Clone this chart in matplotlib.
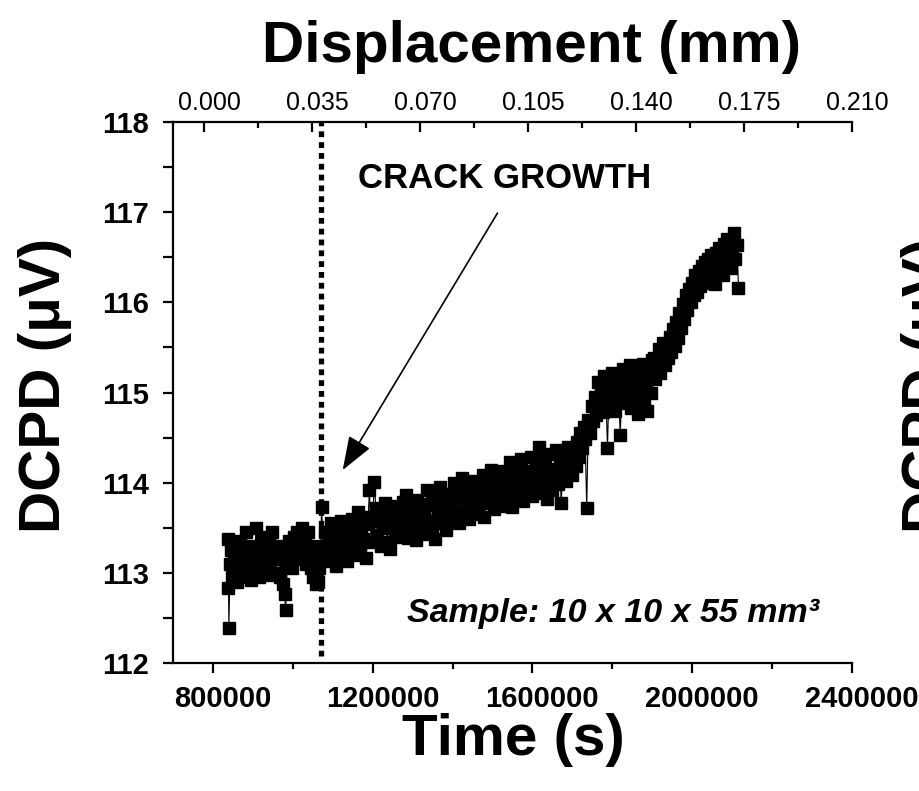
import numpy as np
import matplotlib
matplotlib.use('Agg')
import matplotlib.pyplot as plt
import matplotlib.transforms as mtransforms
from matplotlib.ticker import MultipleLocator

plt.rcParams['font.family'] = ['Liberation Sans', 'DejaVu Sans']

# DCPD record: time in ks, potential drop in microvolts
time_ks = [838, 839, 840, 843, 846, 849, 852, 855, 858, 861, 864, 867, 870, 873, 876, 880,
           884, 888, 892, 896, 900, 904, 908, 912, 916, 920, 924, 928, 932, 936, 940, 944,
           948, 952, 956, 960, 964, 968, 972, 976, 980, 982, 986, 990, 994, 998, 1002, 1006,
           1010, 1014, 1018, 1022, 1026, 1030, 1034, 1038, 1042, 1046, 1050, 1054, 1058, 1062,
           1066, 1070, 1072, 1076,
           1080, 1084, 1088, 1092, 1096, 1100, 1104, 1108, 1112, 1116, 1120, 1124, 1128, 1132,
           1136, 1140,
           1144, 1148, 1152, 1156, 1160, 1164, 1168, 1172, 1176, 1180, 1184, 1188, 1192, 1196,
           1200, 1204,
           1208, 1212, 1216, 1220, 1224, 1228, 1232, 1236, 1240, 1244, 1248, 1252, 1256, 1260,
           1264, 1268,
           1272, 1276, 1280, 1284, 1288, 1292, 1296, 1300, 1304, 1308, 1312, 1316, 1320, 1324,
           1328, 1332,
           1336, 1340, 1344, 1348, 1352, 1356, 1360, 1364, 1368, 1372, 1376, 1380, 1384, 1388,
           1392, 1396,
           1400, 1404, 1408, 1412, 1416, 1420, 1424, 1428, 1432, 1436, 1440, 1444, 1448, 1452,
           1456, 1460,
           1464, 1468, 1472, 1476, 1480, 1484, 1488, 1492, 1496, 1500, 1504, 1508, 1512, 1516,
           1520, 1524,
           1528, 1532, 1536, 1540, 1544, 1548, 1552, 1556, 1560, 1564, 1568, 1572, 1576, 1580,
           1584, 1588,
           1592, 1596, 1600, 1604, 1608, 1612, 1616, 1620, 1624, 1628, 1632, 1636, 1640, 1644,
           1648, 1652,
           1656, 1660, 1664, 1668, 1672, 1676, 1680, 1684, 1688, 1692, 1696, 1700,
           1704, 1708, 1712, 1716, 1720, 1724, 1728, 1732, 1736, 1740, 1744, 1748, 1752, 1756,
           1760, 1764, 1768, 1772, 1776, 1780, 1784, 1788, 1792, 1796, 1800, 1804, 1808, 1812,
           1816, 1820, 1824, 1828, 1832, 1836, 1840, 1844, 1848, 1852, 1856, 1860, 1864, 1868,
           1872, 1876, 1880, 1884, 1888, 1892, 1896, 1900,
           1904, 1908, 1912, 1916, 1920, 1924, 1928, 1932, 1936, 1940, 1944, 1948, 1952, 1956,
           1960, 1964, 1968, 1972, 1976, 1980, 1984, 1988, 1992, 1996, 2000, 2004, 2008, 2012,
           2016, 2020, 2024, 2028, 2032, 2036, 2040, 2044, 2048, 2052, 2056, 2060, 2064, 2068,
           2072, 2076, 2080, 2084, 2088, 2092, 2096, 2100, 2104, 2108, 2112, 2116]

dcpd = [113.38, 112.83, 112.39, 113.10, 113.25, 112.95, 113.15, 113.30, 113.05, 112.90, 113.20,
        113.35, 113.10, 112.95, 113.25, 113.15, 113.45, 113.00, 113.20, 112.92, 113.30, 113.10,
        113.50, 113.15, 112.95, 113.25, 113.40, 113.05, 113.20, 112.98, 113.35, 113.12, 113.45,
        113.22, 113.00, 113.30, 113.15, 112.95, 113.25, 112.88, 112.76, 112.59, 113.10, 113.35,
        113.20, 113.05, 113.40, 113.25, 113.45, 113.15, 113.30, 113.50, 113.20, 113.35, 113.10,
        113.45, 113.30, 113.05, 112.95, 113.15, 112.88, 112.90, 113.05, 113.20, 113.73, 113.30,
        113.45, 113.28, 113.13, 113.38, 113.55, 113.21, 113.33, 113.08, 113.43, 113.18, 113.58,
        113.36, 113.25, 113.49, 113.13, 113.40,
        113.32, 113.60, 113.42, 113.20, 113.50, 113.67, 113.27, 113.47, 113.37, 113.62, 113.17,
        113.54, 113.92, 113.34, 113.57, 114.01,
        113.72, 113.42, 113.57, 113.30, 113.67, 113.50, 113.77, 113.34, 113.60, 113.27, 113.64,
        113.52, 113.40, 113.74, 113.46, 113.62,
        113.46, 113.79, 113.56, 113.86, 113.39, 113.67, 113.73, 113.51, 113.63, 113.36, 113.81,
        113.58, 113.76, 113.43, 113.69, 113.53,
        113.92, 113.58, 113.75, 113.50, 113.85, 113.37, 113.80, 113.65, 113.95, 113.55, 113.72,
        113.88, 113.48, 113.78, 113.62, 113.82,
        113.75, 114.00, 113.62, 113.90, 113.55, 113.83, 114.05, 113.68, 113.95, 113.72, 113.60,
        113.92, 113.80, 114.02, 113.65, 113.86,
        113.67, 113.99, 113.81, 114.09, 113.62, 113.94, 114.04, 113.77, 114.14, 113.84, 113.71,
        114.01, 113.89, 114.11, 113.74, 113.97,
        114.13, 113.78, 114.03, 113.88, 114.23, 113.73, 114.08, 113.95, 114.18, 113.83, 114.00,
        114.26, 113.80, 114.06, 113.90, 114.13,
        113.95, 114.29, 113.85, 114.12, 114.22, 114.02, 114.40, 113.89, 114.17, 113.99, 114.25,
        113.82, 114.10, 114.32, 113.92, 114.15,
        114.06, 114.36, 113.98, 114.24, 113.78, 114.12, 114.30, 114.02, 114.40, 114.15, 114.28,
        114.08,
        114.32, 114.18, 114.45, 114.28, 114.55, 114.38, 114.62, 114.48, 113.72, 114.70, 114.55,
        114.85, 114.68, 114.95, 114.75, 115.12, 114.90, 115.06, 114.78, 115.18, 114.96, 114.39,
        115.10, 114.86, 115.22, 115.00, 114.80, 115.16, 114.93, 114.53, 115.08, 115.26, 114.88,
        115.13, 114.98, 115.30, 114.83, 115.08, 115.20, 114.93, 114.76, 115.16, 115.03, 115.32,
        114.88, 115.10, 114.80, 115.23, 115.00, 115.36,
        115.38, 115.15, 115.30, 115.48, 115.22, 115.40, 115.55, 115.30, 115.50, 115.38, 115.62,
        115.45, 115.70, 115.52, 115.78, 115.60, 115.88, 115.72, 115.98, 115.82, 116.08, 115.92,
        116.15, 116.00, 116.22, 116.08, 116.30, 116.12, 116.35, 116.18, 116.40, 116.25, 116.45,
        116.22, 116.48, 116.32, 116.52, 116.35, 116.20, 116.55, 116.38, 116.60, 116.42, 116.30,
        116.65, 116.48, 116.70, 116.52, 116.38, 116.62, 116.77, 116.48, 116.64, 116.16]

time_ticks = [800000, 1200000, 1600000, 2000000, 2400000]
time_labels = ['800000', '1200000', '1600000', '2000000', '2400000']
disp_ticks = [0.000, 0.035, 0.070, 0.105, 0.140, 0.175, 0.210]
disp_labels = ['0.000', '0.035', '0.070', '0.105', '0.140', '0.175', '0.210']
dcpd_ticks = [112, 113, 114, 115, 116, 117, 118]

crack_start = 1070000   # onset of crack growth (s)

t = np.array(time_ks) * 1000.0

fig = plt.figure(figsize=(9.2, 7.91), dpi=100)
ax = fig.add_axes([0.188, 0.1618, 0.738, 0.6839])

ax.plot(t, dcpd, color='black', lw=0.8, marker='s', ms=9, mec='black', mfc='black')
ax.plot([crack_start, crack_start], [112.08, 118], color='black', lw=3.8,
        linestyle=(0, (1.1, 0.95)), solid_capstyle='butt', dash_capstyle='butt')

ax.set_xlim(700000, 2400000)
ax.set_ylim(112, 118)
ax.set_xticks(time_ticks)
ax.set_xticklabels(time_labels)
ax.xaxis.set_minor_locator(MultipleLocator(200000))
ax.set_yticks(dcpd_ticks)
ax.yaxis.set_minor_locator(MultipleLocator(0.5))

for side in ['right', 'top']:
    ax.spines[side].set_visible(False)
for side in ['left', 'bottom']:
    ax.spines[side].set_linewidth(1.6)

ax.tick_params(axis='x', which='major', direction='out', length=7, width=1.6, pad=9,
               labelsize=21)
ax.tick_params(axis='x', which='minor', direction='out', length=4, width=1.6)
ax.tick_params(axis='y', which='both', direction='out', length=7, width=1.6, pad=10,
               labelsize=21)
for lab in ax.get_xticklabels() + ax.get_yticklabels():
    lab.set_fontweight('bold')

# bottom labels sit a little right of their ticks
shift = mtransforms.ScaledTranslation(0.10, 0, fig.dpi_scale_trans)
for lab in ax.get_xticklabels():
    lab.set_transform(lab.get_transform() + shift)

# displacement scale along the top
ax2 = ax.twiny()
ax2.set_xlim(-0.01005, 0.210)
ax2.set_xticks(disp_ticks)
ax2.set_xticklabels(disp_labels)
ax2.xaxis.set_minor_locator(MultipleLocator(0.0175))
for side in ['left', 'right', 'bottom']:
    ax2.spines[side].set_visible(False)
ax2.spines['top'].set_linewidth(1.6)
ax2.tick_params(axis='x', which='major', direction='in', length=7, width=1.6, pad=5,
                labelsize=18)
ax2.tick_params(axis='x', which='minor', direction='in', length=4, width=1.6)
shift_top = mtransforms.ScaledTranslation(0.05, 0, fig.dpi_scale_trans)
for lab in ax2.get_xticklabels():
    lab.set_transform(lab.get_transform() + shift_top)

ax.text(1530000, 117.37, 'CRACK GROWTH', fontsize=25, fontweight='bold',
        ha='center', va='center')
ax.annotate('', xy=(1125000, 114.14), xytext=(1512500, 116.99),
            arrowprops=dict(arrowstyle='-|>,head_length=1.5,head_width=0.55',
                            mutation_scale=14, color='black', lw=1.2,
                            shrinkA=0, shrinkB=0))
ax.text(1802500, 112.545, 'Sample: 10 x 10 x 55 mm³', fontsize=24.5, fontweight='bold',
        fontstyle='italic', ha='center', va='center')

fig.text(532 / 920, 1 - 47 / 791, 'Displacement (mm)', fontsize=42, fontweight='bold',
         ha='center', va='center')
fig.text(513 / 920, 1 - 740 / 791, 'Time (s)', fontsize=42, fontweight='bold',
         ha='center', va='center')
fig.text(45 / 920, 1 - 385 / 791, 'DCPD (μV)', fontsize=42, fontweight='bold',
         rotation=90, ha='center', va='center')
# label of the neighbouring panel, cut by the figure edge
fig.text(901 / 920, 1 - 385 / 791, 'DCPD (μV)', fontsize=42, fontweight='bold',
         rotation=90, ha='left', va='center')

fig.savefig('out.png', dpi=100)
